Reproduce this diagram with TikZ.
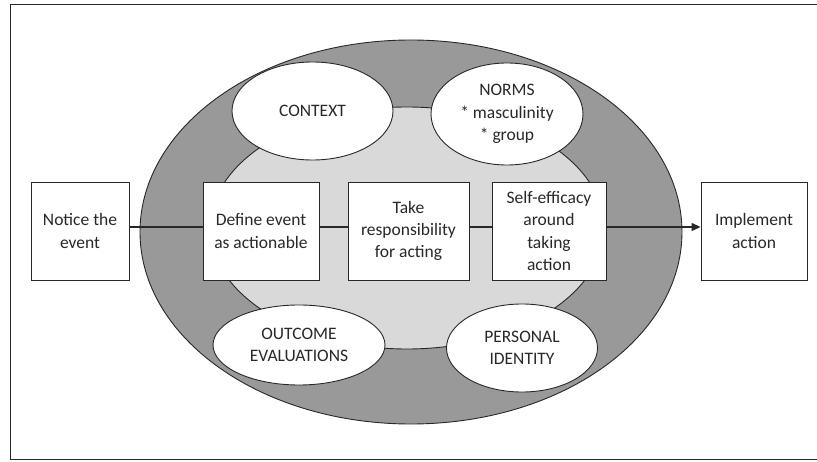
\documentclass[tikz,border=0pt]{standalone}
\usepackage{fontspec}
\setmainfont{Carlito}
\usetikzlibrary{shapes.geometric,arrows.meta}
\definecolor{ringgray}{RGB}{153,153,153}
\definecolor{coregray}{RGB}{217,217,217}
\definecolor{inkgray}{RGB}{40,40,40}
\pgfdeclarelayer{rings}
\pgfdeclarelayer{links}
\pgfsetlayers{rings,links,main}
\begin{document}
\begin{tikzpicture}[x=1pt,y=-1pt,
  every node/.style={font=\fontsize{17.5}{22.3}\selectfont, text=inkgray, align=center, inner sep=0pt},
  stepbox/.style={draw=inkgray, line width=0.9pt, fill=white, minimum height=98pt},
  factor/.style={ellipse, draw=inkgray, line width=0.9pt, fill=white},
  band/.style={ellipse, draw=inkgray, line width=0.9pt},
  link/.style={draw=inkgray, line width=1.3pt}]
\useasboundingbox (0,0) rectangle (817,462);
\begin{pgfonlayer}{rings}
  % outer frame (right side runs past the page edge)
  \draw[inkgray, line width=1.4pt] (830,4.5) -- (10.5,4.5) -- (10.5,459.5) -- (830,459.5);
  % influence rings
  \node[band, fill=ringgray, minimum width=542pt, minimum height=384pt] (ring) at (411,232) {};
  \node[band, fill=coregray, minimum width=394pt, minimum height=242pt] (core) at (407,228) {};
\end{pgfonlayer}
% process steps
\node[stepbox, minimum width=98pt] (notice) at (80,231) {Notice the\\event};
\node[stepbox, minimum width=116pt] (define) at (261,231) {Define event\\as actionable};
\node[stepbox, minimum width=121pt] (take) at (408.5,231) {Take\\responsibility\\for acting};
\node[stepbox, minimum width=114pt] (self) at (549,231) {Self-efficacy\\around\\taking\\action};
\node[stepbox, minimum width=106pt] (impl) at (754,231) {Implement\\action};
% connectors, kept beneath the step boxes
\begin{pgfonlayer}{links}
  \draw[link] ([yshift=4pt]notice.east) -- ([yshift=4pt]define.west);
  \draw[link] ([yshift=4pt]define.east) -- ([yshift=4pt]take.west);
  \draw[link] ([yshift=4pt]take.east) -- ([yshift=4pt]self.west);
  \draw[link, -{Triangle[length=9pt,width=8pt]}] ([yshift=4pt]self.east) -- ([yshift=4pt]impl.west);
\end{pgfonlayer}
% influencing factors
\node[factor, minimum width=161pt, minimum height=98pt] (context) at (312.5,111) {CONTEXT};
\node[factor, minimum width=152pt, minimum height=102pt] (norms) at (507,114) {NORMS\\* masculinity\\* group};
\node[factor, minimum width=172pt, minimum height=80pt] (outcome) at (299,345) {OUTCOME\\EVALUATIONS};
\node[factor, minimum width=151pt, minimum height=88pt] (identity) at (522,348) {PERSONAL\\IDENTITY};
\end{tikzpicture}
\end{document}
